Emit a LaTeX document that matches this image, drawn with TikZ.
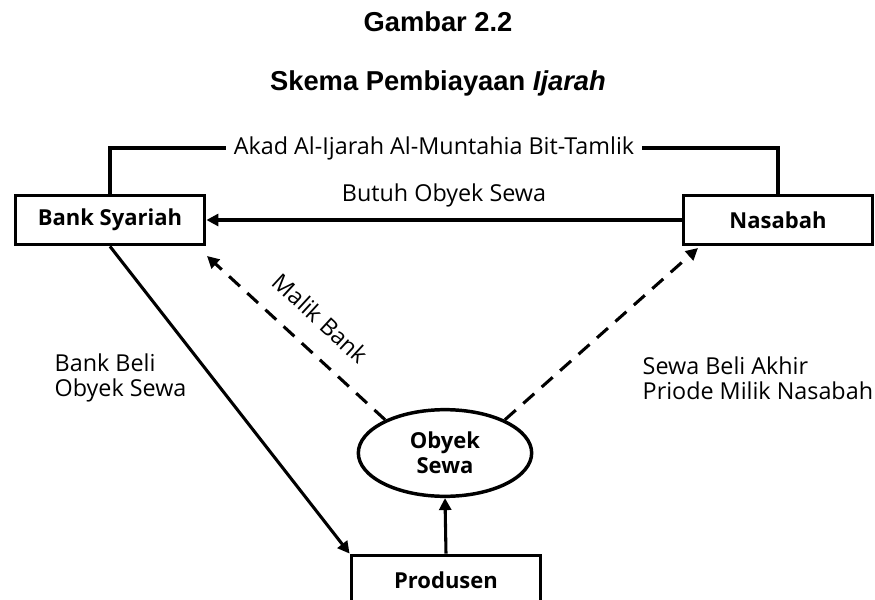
\documentclass[tikz,border=0pt]{standalone}
\usepackage{fontspec}
\setmainfont{Open Sans}
\newfontfamily\titlefont{Liberation Sans}
\usetikzlibrary{shapes.geometric,arrows.meta,positioning}

\begin{document}
\begin{tikzpicture}[x=0.75pt,y=-0.75pt,
  kotak/.style={draw,line width=2.6pt,minimum width=142pt,minimum height=37pt,inner sep=0pt,font=\bfseries\fontsize{16.5}{18.75}\selectfont},
  bulat/.style={draw,ellipse,line width=2.6pt,minimum width=130pt,minimum height=65pt,inner sep=0pt,align=center,font=\bfseries\fontsize{16.5}{18.75}\selectfont},
  garis/.style={line width=2.3pt},
  panah/.style={garis,-{Triangle[length=9pt,width=9pt]}},
  putus/.style={panah,dash pattern=on 11pt off 7.5pt},
  ket/.style={font=\fontsize{17.5}{18.75}\selectfont},
  judul/.style={font=\titlefont\bfseries\fontsize{20.5}{24}\selectfont}]
\useasboundingbox (0,0) rectangle (875,600);

% judul
\node[judul] (gambar) at (438,22) {Gambar 2.2};
\node[judul] (skema) at (438,83) {Skema Pembiayaan \textit{Ijarah}};

% pihak-pihak
\node[kotak] (bank) at (110,220) {Bank Syariah};
\node[kotak] (nasabah) at (778,220) {Nasabah};
\node[kotak] (produsen) at (446,580) {Produsen};
\node[bulat] (obyek) at (445,453) {Obyek\\Sewa};
\node[ket,fill=white,inner xsep=6pt] (akad) at (434,148) {Akad Al-Ijarah Al-Muntahia Bit-Tamlik};
\coordinate (bankin) at (207,256);
\coordinate (nasabahin) at (698,248);

% hubungan
\draw[garis] (bank.north) |- (akad.west);
\draw[garis] (akad.east) -| (nasabah.north);
\draw[panah] (nasabah.west) -- node[ket,above=5pt] (butuh) {Butuh Obyek Sewa} (bank.east);
\draw[panah] (bank.south) -- (produsen.north west);
\draw[panah] (produsen.north) -- (obyek.south);
\draw[putus] (obyek.151) -- node[ket,sloped,above=12pt,pos=0.48] (malik) {Malik Bank} (bankin);
\draw[putus] (obyek.29) -- (nasabahin);

% keterangan
\node[ket,align=left,anchor=west] (beli) at (50,378) {Bank Beli\\Obyek Sewa};
\node[ket,align=left,anchor=west] (sewa) at (638,378) {Sewa Beli Akhir\\Priode Milik Nasabah};
\end{tikzpicture}
\end{document}
